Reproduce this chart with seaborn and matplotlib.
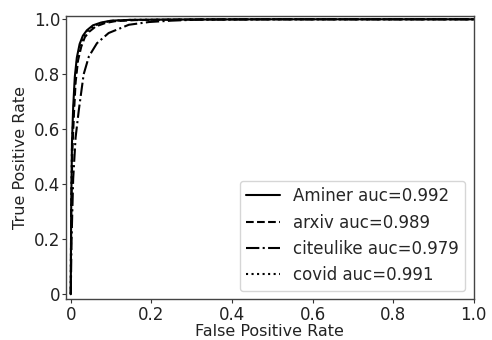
import matplotlib
matplotlib.use("Agg")
import matplotlib.pyplot as plt
import seaborn as sns
import pandas as pd

# ROC curve points
fpr_aminer = [0, 0.001, 0.003, 0.006, 0.010, 0.015, 0.022, 0.030, 0.040, 0.055, 0.075, 0.10, 0.15, 0.25, 0.5, 1.0]
tpr_aminer = [0, 0.30, 0.55, 0.68, 0.79, 0.86, 0.91, 0.94, 0.96, 0.978, 0.988, 0.995, 0.998, 0.999, 1.0, 1.0]

fpr_arxiv = [0, 0.001, 0.004, 0.008, 0.012, 0.018, 0.026, 0.035, 0.046, 0.062, 0.085, 0.11, 0.16, 0.26, 0.5, 1.0]
tpr_arxiv = [0, 0.28, 0.52, 0.66, 0.77, 0.85, 0.90, 0.935, 0.955, 0.974, 0.986, 0.993, 0.997, 0.999, 1.0, 1.0]

fpr_citeulike = [0, 0.002, 0.006, 0.012, 0.020, 0.032, 0.045, 0.065, 0.094, 0.144, 0.194, 0.25, 0.32, 0.5, 1.0]
tpr_citeulike = [0, 0.20, 0.42, 0.57, 0.67, 0.80, 0.865, 0.913, 0.95, 0.98, 0.99, 0.995, 0.999, 1.0, 1.0]

fpr_covid = [0, 0.001, 0.003, 0.007, 0.011, 0.016, 0.024, 0.032, 0.042, 0.058, 0.078, 0.10, 0.15, 0.25, 0.5, 1.0]
tpr_covid = [0, 0.29, 0.54, 0.67, 0.78, 0.855, 0.905, 0.938, 0.958, 0.976, 0.987, 0.994, 0.998, 0.999, 1.0, 1.0]

labels = ["Aminer auc=0.992", "arxiv auc=0.989", "citeulike auc=0.979", "covid auc=0.991"]
tick_vals = [0, 0.2, 0.4, 0.6, 0.8, 1.0]
tick_labels = ["0", "0.2", "0.4", "0.6", "0.8", "1.0"]

series = [(fpr_aminer, tpr_aminer), (fpr_arxiv, tpr_arxiv),
          (fpr_citeulike, tpr_citeulike), (fpr_covid, tpr_covid)]
styles = ["-", "--", "-.", ":"]

sns.set_style("ticks")
plt.rcParams["font.family"] = ["DejaVu Sans"]

fig = plt.figure(figsize=(4.92, 3.40), dpi=100)
ax = fig.add_axes([0.134, 0.12, 0.829, 0.833])

for (fx, ty), lab, ls in zip(series, labels, styles):
    df = pd.DataFrame({"fpr": fx, "tpr": ty})
    sns.lineplot(data=df, x="fpr", y="tpr", ax=ax, color="black", linestyle=ls,
                 linewidth=1.5, label=lab, sort=False, estimator=None)

ax.set_xlim(-0.012, 1.0)
ax.set_ylim(-0.018, 1.012)
ax.set_xticks(tick_vals)
ax.set_xticklabels(tick_labels)
ax.set_yticks(tick_vals)
ax.set_yticklabels(tick_labels)
ax.tick_params(labelsize=12, length=3, width=0.8, colors="#333333", labelcolor="#222222")
ax.tick_params(axis="x", pad=2)
ax.tick_params(axis="y", pad=1)
ax.set_xlabel("False Positive Rate", fontsize=11.5, color="#222222", labelpad=0)
ax.set_ylabel("True Positive Rate", fontsize=11.5, color="#222222", labelpad=4)
for s in ax.spines.values():
    s.set_color("#444444")
    s.set_linewidth(1.0)

leg = ax.legend(loc="lower right", fontsize=12, frameon=True)
leg.get_frame().set_edgecolor("#cccccc")

fig.savefig("out.png", dpi=100)
